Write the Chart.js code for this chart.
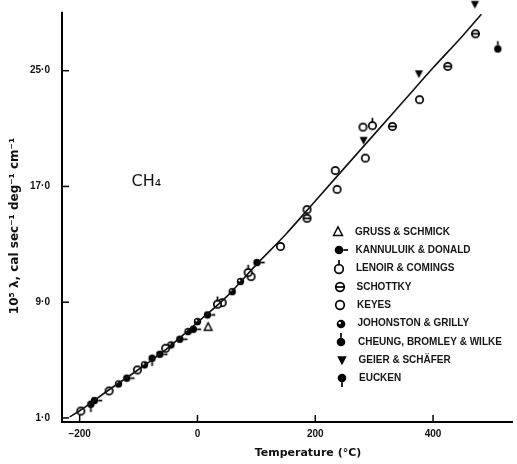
<!DOCTYPE html>
<html>
<head>
<meta charset="utf-8">
<script src="https://cdn.jsdelivr.net/npm/chart.js@4.4.1/dist/chart.umd.min.js"></script>
<style>
  html, body { margin: 0; padding: 0; background: #fff; }
  #wrap { width: 517px; height: 464px; position: relative; }
</style>
</head>
<body>
<div id="wrap"><canvas id="ch4Chart"></canvas></div>
<script>
// Tick values and axis extent
const xTicks = [-200, 0, 200, 400];
const yTicks = [1, 9, 17, 25];
const yAxisTop = 29.08;

// Smooth curve through the data
const curveT = [-217, -200, -150, -100, -50, 0, 50, 100, 150, 200, 250, 300, 350, 400, 450, 482];
const curveK = [1.07, 1.5, 2.95, 4.35, 5.85, 7.6, 9.4, 11.6, 13.7, 16.0, 18.3, 20.6, 22.9, 25.2, 27.4, 28.9];

// Measured points, one pair of arrays per source
const grussT = [18];
const grussK = [7.27];
const kannT = [-175, -120, -64, -30, -7, 17, 101];
const kannK = [2.2, 3.75, 5.4, 6.44, 7.13, 8.12, 11.74];
const lenoirT = [34, 86, 297];
const lenoirK = [8.86, 11.05, 21.2];
const schottkyT = [186, 331, 425, 472];
const schottkyK = [14.8, 21.15, 25.3, 27.55];
const keyesT = [-198, -150, -102, -54, 42, 91, 141, 186, 234, 237, 281, 285, 377];
const keyesK = [1.48, 2.87, 4.32, 5.82, 8.97, 10.77, 12.85, 15.4, 18.1, 16.8, 21.1, 18.96, 23.0];
const johnT = [-134, -90, -45, -16, 0, 59, 73];
const johnK = [3.35, 4.67, 6.05, 6.97, 7.66, 9.73, 10.43];
const cheungT = [510];
const cheungK = [26.5];
const geierT = [282, 376, 471];
const geierK = [20.2, 24.8, 29.6];
const euckenT = [-181, -77];
const euckenK = [1.95, 5.13];

const legendLabels = [
  'GRUSS & SCHMICK', 'KANNULUIK & DONALD', 'LENOIR & COMINGS', 'SCHOTTKY', 'KEYES',
  'JOHONSTON & GRILLY', 'CHEUNG, BROMLEY & WILKE', 'GEIER & SCHÄFER', 'EUCKEN'
];
const symbolKinds = ['triangle', 'tail', 'openStickUp', 'bar', 'open', 'dotted', 'filledStickUp', 'triDown', 'filledStickDown'];

// draw one marker into a small canvas, used as pointStyle
function makeSymbol(kind, r) {
  const s = Math.ceil(r * 5) + 4;
  const c = document.createElement('canvas');
  c.width = s; c.height = s;
  const g = c.getContext('2d');
  const m = s / 2;
  g.lineWidth = 1.7;
  g.strokeStyle = '#000';
  g.fillStyle = '#000';
  const circle = (filled) => {
    g.beginPath();
    g.arc(m, m, r, 0, Math.PI * 2);
    if (filled) { g.fill(); } else { g.fillStyle = '#fff'; g.fill(); g.fillStyle = '#000'; g.stroke(); }
  };
  const stick = (x1, y1, x2, y2) => { g.beginPath(); g.moveTo(x1, y1); g.lineTo(x2, y2); g.stroke(); };
  switch (kind) {
    case 'triangle':
      g.lineWidth = 1.4;
      g.beginPath();
      g.moveTo(m, m - r * 1.2); g.lineTo(m + r * 1.05, m + r * 0.8); g.lineTo(m - r * 1.05, m + r * 0.8);
      g.closePath(); g.fillStyle = '#fff'; g.fill(); g.stroke();
      break;
    case 'tail':
      circle(true); stick(m + r, m, m + r * 2.1, m);
      break;
    case 'openStickUp':
      circle(false); stick(m, m - r, m, m - r * 2.1);
      break;
    case 'bar':
      circle(false); stick(m - r, m, m + r, m);
      break;
    case 'open':
      circle(false);
      break;
    case 'dotted':
      circle(true);
      g.fillStyle = '#fff';
      g.beginPath(); g.arc(m - r * 0.3, m - r * 0.25, r * 0.28, 0, Math.PI * 2); g.fill();
      break;
    case 'filledStickUp':
      circle(true); stick(m, m - r, m, m - r * 2.1);
      break;
    case 'triDown':
      g.beginPath();
      g.moveTo(m - r * 1.1, m - r * 0.85); g.lineTo(m + r * 1.1, m - r * 0.85); g.lineTo(m, m + r * 1.2);
      g.closePath(); g.fill();
      break;
    case 'filledStickDown':
      circle(true); stick(m, m + r, m, m + r * 2.1);
      break;
  }
  return c;
}

const pointSymbols = symbolKinds.map(k => makeSymbol(k, 3.7));
const legendSymbols = symbolKinds.map(k => makeSymbol(k, 4.3));

function pairs(ts, ks) { return ts.map((t, i) => ({ x: t, y: ks[i] })); }

const seriesT = [grussT, kannT, lenoirT, schottkyT, keyesT, johnT, cheungT, geierT, euckenT];
const seriesK = [grussK, kannK, lenoirK, schottkyK, keyesK, johnK, cheungK, geierK, euckenK];

const pointSets = legendLabels.map((label, i) => ({
  label: label,
  data: pairs(seriesT[i], seriesK[i]),
  pointStyle: pointSymbols[i],
  pointRadius: 4,
  showLine: false,
  clip: false
}));

// Legend drawn inside the plot, lower right
const innerLegend = {
  id: 'innerLegend',
  afterDraw(chart) {
    const ctx = chart.ctx;
    ctx.save();
    ctx.font = 'bold 10px "Liberation Sans"';
    ctx.fillStyle = '#151515';
    ctx.textBaseline = 'middle';
    legendLabels.forEach((label, i) => {
      const y = 232 + i * 18.3;
      const sym = legendSymbols[i];
      ctx.drawImage(sym, Math.round(338 + i * 0.5 - sym.width / 2), Math.round(y - sym.height / 2));
      ctx.fillText(label, 355 + i * 0.5, y);
    });
    ctx.restore();
  }
};

// Y axis line, axis titles, formula label and inward tick marks
const extras = {
  id: 'extras',
  afterDatasetsDraw(chart) {
    const { ctx, chartArea: a, scales: { x, y } } = chart;
    ctx.save();
    ctx.strokeStyle = '#000';
    ctx.lineWidth = 2;
    ctx.beginPath();
    ctx.moveTo(a.left, y.getPixelForValue(yAxisTop));
    ctx.lineTo(a.left, a.bottom + 1);
    ctx.stroke();

    ctx.lineWidth = 1.5;
    x.ticks.forEach(t => {
      const px = x.getPixelForValue(t.value);
      ctx.beginPath(); ctx.moveTo(px, a.bottom); ctx.lineTo(px, a.bottom - 7); ctx.stroke();
    });
    y.ticks.forEach(t => {
      const py = y.getPixelForValue(t.value);
      ctx.beginPath(); ctx.moveTo(a.left, py); ctx.lineTo(a.left + 7, py); ctx.stroke();
    });
    ctx.fillStyle = '#111';
    ctx.textBaseline = 'middle';
    ctx.font = '16px "DejaVu Sans"';
    ctx.fillText('CH₄', x.getPixelForValue(-112), y.getPixelForValue(17.3));

    ctx.textAlign = 'center';
    ctx.font = 'bold 11px "DejaVu Sans"';
    ctx.fillText('Temperature (°C)', 308, 453);
    ctx.translate(15, 226);
    ctx.rotate(-Math.PI / 2);
    ctx.font = 'bold 12px "DejaVu Sans"';
    ctx.fillText('10⁵ λ, cal sec⁻¹ deg⁻¹ cm⁻¹', 0, 0);
    ctx.restore();
  }
};

const ctx = document.getElementById('ch4Chart').getContext('2d');
new Chart(ctx, {
  type: 'scatter',
  data: {
    datasets: [
      {
        label: 'curve',
        data: pairs(curveT, curveK),
        showLine: true,
        borderColor: '#111',
        borderWidth: 1.6,
        pointRadius: 0,
        cubicInterpolationMode: 'monotone',
        clip: false
      },
      ...pointSets
    ]
  },
  plugins: [extras, innerLegend],
  options: {
    responsive: true,
    maintainAspectRatio: false,
    animation: false,
    layout: { padding: 0 },
    scales: {
      x: {
        type: 'linear',
        min: -230,
        max: 534,
        afterFit: (s) => { s.height = 42; s.paddingLeft = 0; s.paddingRight = 0; },
        afterBuildTicks: (s) => { s.ticks = xTicks.map(v => ({ value: v })); },
        grid: { display: false, drawTicks: false },
        border: { display: true, color: '#000', width: 2 },
        ticks: {
          padding: 6,
          color: '#111',
          font: { family: 'Liberation Sans', size: 10, weight: 'bold' },
          callback: (v) => (v < 0 ? '\u2212' + Math.abs(v) : String(v))
        }
      },
      y: {
        type: 'linear',
        min: 0.72,
        max: 29.54,
        afterFit: (s) => { s.width = 62; s.paddingTop = 0; s.paddingBottom = 0; },
        afterBuildTicks: (s) => { s.ticks = yTicks.map(v => ({ value: v })); },
        grid: { display: false, drawTicks: false },
        border: { display: false },
        ticks: {
          padding: 12,
          color: '#111',
          font: { family: 'Liberation Sans', size: 10, weight: 'bold' },
          callback: (v) => v.toFixed(1).replace('.', '·')
        }
      }
    },
    plugins: {
      legend: { display: false },
      tooltip: { enabled: false }
    }
  }
});
</script>
</body>
</html>
